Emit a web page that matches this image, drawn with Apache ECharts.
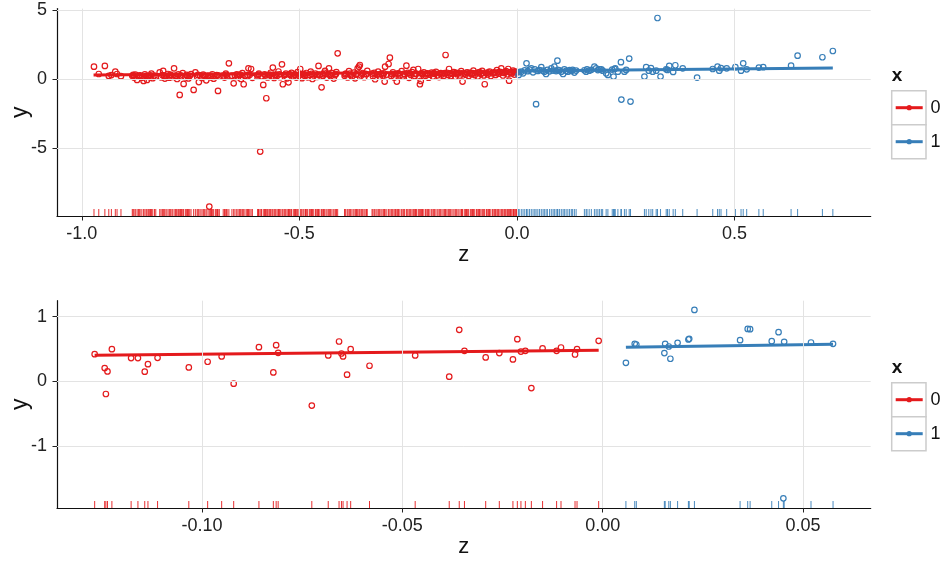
<!DOCTYPE html>
<html><head><meta charset="utf-8">
<script src="https://cdn.jsdelivr.net/npm/echarts@6/dist/echarts.min.js"></script>
<style>html,body{margin:0;padding:0;background:#fff}#c{width:943px;height:561px}</style>
</head><body><div id="c"></div>
<script>
const RED = '#E41A1C', BLUE = '#377EB8';
const FONT = '"Liberation Sans", Arial, Helvetica, sans-serif';

// ---- top panel: x = 0 (red), x = 1 (blue); pairs [z, y]
const topRed = [
[-0.972,0.91],[-0.961,0.38],[-0.947,0.96],[-0.938,0.24],[-0.932,0.30],[-0.923,0.55],[-0.919,0.38],[-0.910,0.22],
[-0.884,0.25],[-0.882,0.31],[-0.880,0.12],[-0.877,0.33],[-0.873,-0.05],[-0.870,0.20],[-0.868,0.26],[-0.866,0.28],[-0.862,0.10],[-0.858,-0.12],[-0.855,0.35],[-0.852,0.24],[-0.850,-0.05],[-0.847,0.22],[-0.844,0.15],[-0.842,0.29],[-0.840,0.40],[-0.837,0.08],[-0.833,0.27],[-0.830,0.18],
[-0.821,0.50],[-0.818,0.14],[-0.815,0.30],[-0.813,0.60],[-0.811,0.27],[-0.809,0.05],[-0.806,0.22],[-0.802,0.38],[-0.799,0.11],[-0.797,0.33],[-0.795,0.29],[-0.792,0.17],[-0.788,0.79],[-0.785,0.26],[-0.783,0.22],[-0.781,0.02],[-0.778,0.35],[-0.775,-1.13],[-0.773,0.29],[-0.771,0.20],[-0.768,0.44],[-0.766,-0.34],[-0.762,0.15],[-0.759,0.31],[-0.757,0.24],[-0.755,0.06],[-0.752,0.25],[-0.749,0.37],
[-0.743,-0.77],[-0.739,0.50],[-0.735,0.18],[-0.733,0.31],[-0.731,-0.20],[-0.728,0.28],[-0.724,0.09],[-0.721,0.33],[-0.719,0.27],[-0.717,0.21],[-0.714,-0.08],[-0.710,0.26],[-0.707,-9.19],[-0.704,0.14],[-0.702,0.25],[-0.700,0.36],[-0.697,0.04],[-0.693,0.23],[-0.690,0.30],[-0.688,0.29],[-0.687,-0.84],[-0.684,0.19],
[-0.675,0.27],[-0.672,0.12],[-0.669,0.41],[-0.668,0.31],[-0.666,0.20],[-0.662,1.15],[-0.655,0.26],[-0.651,-0.29],[-0.648,0.28],
[-0.644,0.35],[-0.641,0.16],[-0.638,0.29],[-0.636,0.33],[-0.634,0.02],[-0.631,0.44],[-0.628,-0.36],[-0.625,0.24],[-0.621,0.18],[-0.619,0.30],[-0.617,0.79],[-0.614,0.32],[-0.611,0.74],[-0.608,0.10],
[-0.596,0.27],[-0.594,0.33],[-0.593,0.40],[-0.590,-5.22],[-0.587,0.21],[-0.583,-0.41],[-0.580,0.36],[-0.578,0.28],[-0.576,-1.37],[-0.573,0.13],[-0.570,0.30],[-0.568,0.34],[-0.566,0.47],[-0.563,0.20],[-0.561,0.84],[-0.558,0.09],[-0.556,0.30],[-0.554,0.33],[-0.551,0.25],[-0.548,0.56],[-0.546,0.36],[-0.544,0.15],[-0.540,1.08],[-0.538,-0.36],[-0.535,0.29],[-0.533,0.32],[-0.531,0.40],[-0.528,0.07],[-0.525,-0.22],[-0.523,0.37],[-0.521,0.31],[-0.518,0.46],[-0.514,0.19],[-0.511,0.35],[-0.509,0.31],[-0.507,0.12],[-0.504,0.52],[-0.501,0.26],[-0.498,0.74],[-0.496,0.35],[-0.494,0.08],[-0.491,0.38],[-0.487,0.22],[-0.486,0.33],[-0.484,0.45],[-0.481,0.14],[-0.477,0.31],[-0.474,0.55],[-0.472,0.39],[-0.470,0.02],[-0.467,0.28],[-0.463,0.40],[-0.460,0.17],[-0.458,0.34],[-0.456,0.96],[-0.453,0.33],[-0.449,-0.58],[-0.446,0.24],[-0.445,0.37],[-0.443,0.47],[-0.441,0.60],[-0.437,0.12],[-0.434,0.36],[-0.432,0.79],[-0.430,0.33],[-0.428,0.21],[-0.425,0.44],[-0.421,0.05],[-0.418,0.30],[-0.416,0.38],[-0.415,0.52],[-0.412,1.87],
[-0.396,0.25],[-0.395,0.36],[-0.393,0.41],[-0.389,0.13],[-0.386,0.58],[-0.384,0.40],[-0.382,0.29],[-0.379,0.20],[-0.375,0.48],[-0.372,0.07],[-0.370,0.34],[-0.369,0.36],[-0.366,0.79],[-0.363,0.91],[-0.361,1.03],[-0.358,0.27],[-0.356,0.39],[-0.354,0.45],[-0.351,0.15],[-0.347,0.38],[-0.346,0.37],[-0.344,0.60],
[-0.333,0.41],[-0.331,0.22],[-0.328,0.46],[-0.326,0.00],[-0.322,0.33],[-0.319,0.55],[-0.317,0.36],[-0.315,0.18],[-0.312,0.40],[-0.308,0.27],[-0.306,0.42],[-0.304,-0.17],[-0.303,0.91],[-0.299,0.34],[-0.295,1.10],[-0.292,1.56],[-0.289,0.24],[-0.287,0.38],[-0.285,0.49],[-0.282,0.12],[-0.279,0.37],[-0.276,-0.17],[-0.274,0.41],[-0.272,0.43],[-0.269,0.28],[-0.265,0.58],[-0.262,0.19],[-0.260,0.39],[-0.258,0.35],[-0.254,0.98],[-0.251,0.46],[-0.248,0.10],[-0.246,0.43],[-0.244,0.31],[-0.241,0.52],[-0.238,0.67],[-0.235,0.23],[-0.233,0.38],[-0.231,0.40],[-0.227,0.74],[-0.225,0.15],[-0.223,-0.36],[-0.221,-0.12],[-0.219,0.42],[-0.217,0.37],[-0.214,0.50],[-0.210,0.26],[-0.207,0.42],[-0.205,0.40],[-0.203,0.11],[-0.200,0.33],[-0.196,0.48],[-0.193,0.20],[-0.191,0.45],[-0.189,0.39],[-0.186,0.54],[-0.182,0.29],[-0.179,0.16],[-0.177,0.41],[-0.175,0.44],[-0.172,0.36],[-0.168,0.25],[-0.166,0.44],[-0.164,1.75],[-0.161,0.47],[-0.158,0.31],[-0.156,0.74],[-0.154,0.42],[-0.152,0.22],[-0.149,0.40],[-0.145,0.52],[-0.142,0.18],[-0.140,0.46],[-0.138,0.37],[-0.135,0.45],[-0.131,0.27],[-0.128,0.58],[-0.127,0.43],[-0.125,-0.17],[-0.121,0.41],[-0.118,0.33],[-0.116,0.47],[-0.114,0.50],[-0.111,0.24],[-0.107,0.46],[-0.104,0.36],[-0.102,0.44],[-0.100,0.62],[-0.097,0.30],[-0.093,0.44],[-0.090,0.19],[-0.088,0.48],[-0.086,0.52],[-0.083,0.38],[-0.080,0.60],[-0.078,0.45],[-0.076,0.28],[-0.074,-0.36],[-0.070,0.47],[-0.067,0.35],[-0.065,0.49],[-0.063,0.56],[-0.060,0.23],[-0.056,0.43],[-0.053,0.49],[-0.051,0.46],[-0.049,0.31],[-0.046,0.66],[-0.044,0.50],[-0.042,0.40],[-0.039,0.53],[-0.036,0.79],[-0.034,0.48],[-0.032,0.27],[-0.029,0.46],[-0.027,0.52],[-0.025,0.58],[-0.022,0.36],[-0.020,0.74],[-0.018,-0.10],[-0.016,0.49],[-0.015,0.51],[-0.012,0.42],[-0.009,0.63],[-0.008,0.53],[-0.006,0.34],[-0.003,0.55],[-0.001,0.48]
];
const topBlue = [
[0.004,0.31],[0.005,0.52],[0.010,0.55],[0.014,0.43],[0.018,0.64],[0.022,1.15],[0.025,0.58],[0.029,0.70],[0.033,0.79],[0.037,0.50],[0.041,0.72],[0.044,-1.80],[0.048,0.60],[0.052,0.66],[0.056,0.87],[0.060,0.62],[0.063,0.55],[0.067,0.38],[0.070,0.68],[0.075,0.57],[0.079,0.79],[0.083,0.63],[0.086,0.91],[0.090,0.59],[0.093,1.34],[0.094,0.67],[0.098,0.64],[0.102,0.55],[0.106,0.38],[0.109,0.72],[0.113,0.61],[0.117,0.55],[0.121,0.66],[0.125,0.60],[0.128,0.67],[0.132,0.48],[0.136,0.63],
[0.155,0.65],[0.159,0.55],[0.161,0.72],[0.166,0.62],[0.171,0.68],[0.178,0.91],[0.182,0.79],[0.186,0.66],[0.190,0.72],[0.194,0.72],[0.197,0.62],[0.205,0.43],[0.209,0.31],
[0.219,0.70],[0.222,0.19],[0.224,0.74],[0.226,0.79],[0.232,0.55],[0.239,1.23],[0.240,-1.47],[0.247,0.55],[0.251,0.67],[0.258,1.49],[0.261,-1.61],
[0.293,0.19],[0.297,0.87],[0.303,0.62],[0.308,0.81],[0.312,0.55],[0.320,0.62],[0.323,4.42],[0.330,0.19],
[0.343,0.72],[0.346,0.67],[0.350,0.96],[0.359,0.53],[0.364,1.01],[0.381,0.79],[0.414,0.12],
[0.450,0.74],[0.461,0.91],[0.465,0.62],[0.469,0.80],[0.482,0.79],[0.502,0.87],[0.515,0.62],[0.520,1.15],[0.528,0.72],[0.556,0.84],[0.566,0.87],[0.630,0.98],[0.645,1.70],[0.702,1.59],[0.726,2.04]
];
// fitted lines (endpoints)
const topFit0 = [[-0.973,0.30],[-0.001,0.55]];
const topFit1 = [[0.004,0.60],[0.726,0.82]];

// ---- bottom panel
const botRed = [
[-0.1268,0.42],[-0.1243,0.205],[-0.1240,-0.195],[-0.1236,0.154],[-0.1225,0.497],[-0.1177,0.359],[-0.1160,0.359],[-0.1143,0.149],[-0.1135,0.266],[-0.1111,0.364],[-0.1033,0.215],[-0.0986,0.303],[-0.0951,0.385],[-0.0921,-0.036],[-0.0858,0.528],[-0.0822,0.138],[-0.0815,0.559],[-0.0810,0.441],[-0.0726,-0.374],[-0.0685,0.40],[-0.0658,0.615],[-0.0652,0.43],[-0.0648,0.385],[-0.0638,0.103],[-0.0629,0.497],[-0.0582,0.241],[-0.0468,0.40],[-0.0383,0.072],[-0.0358,0.795],[-0.0345,0.472],[-0.0292,0.369],[-0.0258,0.436],[-0.0224,0.338],[-0.0213,0.651],[-0.0204,0.46],[-0.0193,0.472],[-0.0178,-0.103],[-0.0150,0.508],[-0.0115,0.472],[-0.0104,0.523],[-0.0069,0.415],[-0.0064,0.497],[-0.0010,0.626]
];
const botBlue = [
[0.0058,0.287],[0.0080,0.58],[0.0084,0.569],[0.0154,0.436],[0.0156,0.58],[0.0165,0.538],[0.0169,0.349],[0.0187,0.595],[0.0214,0.646],[0.0216,0.656],[0.0229,1.103],[0.0343,0.636],[0.0362,0.81],[0.0368,0.805],[0.0422,0.62],[0.0439,0.759],[0.0451,-1.805],[0.0453,0.61],[0.0520,0.60],[0.0575,0.58]
];
const botFit0 = [[-0.1268,0.405],[-0.0010,0.48]];
const botFit1 = [[0.0058,0.528],[0.0575,0.574]];

// ---- axes
const topXTicks = [-1.0, -0.5, 0.0, 0.5];
const topYTicks = [-5, 0, 5];
const botXTicks = [-0.10, -0.05, 0.00, 0.05];
const botYTicks = [-1, 0, 1];
const topXRange = [-1.057, 0.813], topYRange = [-9.87, 5.1];
const botXRange = [-0.1362, 0.0669], botYRange = [-1.954, 1.245];
const legendTitle = 'x';
const legendLabels = ['0', '1'];

const GRID_COL = '#e3e3e3';
function xAxisOf(gi, range, ticks, dec) {
  return {
    type: 'value', gridIndex: gi, min: range[0], max: range[1],
    name: 'z', nameLocation: 'middle', nameGap: 28,
    nameTextStyle: {fontSize: 22, color: '#111', fontFamily: FONT},
    axisLine: {show: true, onZero: false, lineStyle: {color: '#111', width: 1.2}},
    axisTick: {show: true, length: 4.5, customValues: ticks, lineStyle: {color: '#222', width: 1}},
    axisLabel: {customValues: ticks, formatter: v => v.toFixed(dec), fontSize: 18, color: '#222', margin: 9, fontFamily: FONT},
    splitLine: {show: false}
  };
}
function yAxisOf(gi, range, ticks) {
  return {
    type: 'value', gridIndex: gi, min: range[0], max: range[1],
    name: 'y', nameLocation: 'middle', nameGap: 25, nameRotate: 90, nameMoveOverlap: false,
    nameTextStyle: {fontSize: 23, color: '#111', fontFamily: FONT},
    axisLine: {show: true, onZero: false, lineStyle: {color: '#111', width: 1.2}},
    axisTick: {show: true, length: 4.5, customValues: ticks, lineStyle: {color: '#222', width: 1}},
    axisLabel: {customValues: ticks, formatter: v => String(v), fontSize: 18, color: '#222', margin: 10, fontFamily: FONT},
    splitLine: {show: false}
  };
}
// grid lines at the tick values, placed through the axes' own scales
function gridLines(gi, xt, yt) {
  return {type: 'line', xAxisIndex: gi, yAxisIndex: gi, data: [], silent: true, z: 0,
    markLine: {silent: true, symbol: ['none', 'none'], animation: false, label: {show: false},
      lineStyle: {color: GRID_COL, width: 1, type: 'solid'}, emphasis: {disabled: true},
      data: xt.map(v => ({xAxis: v})).concat(yt.map(v => ({yAxis: v})))}};
}
function pts(data, gi, color) {
  return {type: 'scatter', xAxisIndex: gi, yAxisIndex: gi, data: data, symbol: 'circle', symbolSize: 5.5,
    itemStyle: {color: 'rgba(255,255,255,0)', borderColor: color, borderWidth: 1.2, opacity: 1}, clip: false, silent: true, z: 2};
}
function rug(data, gi, ymin, color) {
  return {type: 'scatter', xAxisIndex: gi, yAxisIndex: gi, data: data.map(p => [p[0], ymin]), symbol: 'rect',
    symbolSize: [1, 7], symbolOffset: [0, -3.5], itemStyle: {color: color, opacity: 0.9}, clip: false, silent: true, z: 3};
}
function fit(data, gi, color) {
  return {type: 'line', xAxisIndex: gi, yAxisIndex: gi, data: data, showSymbol: false, symbol: 'none',
    lineStyle: {color: color, width: 3}, silent: true, z: 4};
}
function legendGroup(titleY, boxTop) {
  const els = [];
  els.push({type: 'text', style: {text: legendTitle, x: 897, y: titleY, fill: '#111', fontSize: 19, fontWeight: 'bold', fontFamily: FONT, align: 'center', verticalAlign: 'middle'}});
  [RED, BLUE].forEach((c, i) => {
    const top = boxTop + i * 34;
    const cy = top + 17;
    els.push({type: 'rect', shape: {x: 891.7, y: top, width: 34.3, height: 34}, style: {fill: '#fff', stroke: '#cccccc', lineWidth: 1.5}});
    els.push({type: 'line', shape: {x1: 895.7, y1: cy, x2: 922.7, y2: cy}, style: {stroke: c, lineWidth: 3}});
    els.push({type: 'circle', shape: {cx: 909.2, cy: cy, r: 2.6}, style: {fill: c}});
    els.push({type: 'text', style: {text: legendLabels[i], x: 930.5, y: cy, fill: '#111', fontSize: 18, fontFamily: FONT, align: 'left', verticalAlign: 'middle'}});
  });
  return els;
}

const chart = echarts.init(document.getElementById('c'), null, {renderer: 'canvas'});
chart.setOption({
  animation: false,
  backgroundColor: '#fff',
  grid: [
    {left: 57, right: 72.3, top: 8.6, height: 207.4, containLabel: false, outerBoundsMode: 'none'},
    {left: 57, right: 72.3, top: 300.7, height: 207.3, containLabel: false, outerBoundsMode: 'none'}
  ],
  xAxis: [xAxisOf(0, topXRange, topXTicks, 1), xAxisOf(1, botXRange, botXTicks, 2)],
  yAxis: [yAxisOf(0, topYRange, topYTicks), yAxisOf(1, botYRange, botYTicks)],
  series: [
    gridLines(0, topXTicks, topYTicks), gridLines(1, botXTicks, botYTicks),
    pts(topRed, 0, RED), pts(topBlue, 0, BLUE),
    rug(topRed, 0, topYRange[0], RED), rug(topBlue, 0, topYRange[0], BLUE),
    fit(topFit0, 0, RED), fit(topFit1, 0, BLUE),
    pts(botRed, 1, RED), pts(botBlue, 1, BLUE),
    rug(botRed, 1, botYRange[0], RED), rug(botBlue, 1, botYRange[0], BLUE),
    fit(botFit0, 1, RED), fit(botFit1, 1, BLUE)
  ],
  graphic: legendGroup(76, 90.7).concat(legendGroup(368, 382.7))
});
</script></body></html>
